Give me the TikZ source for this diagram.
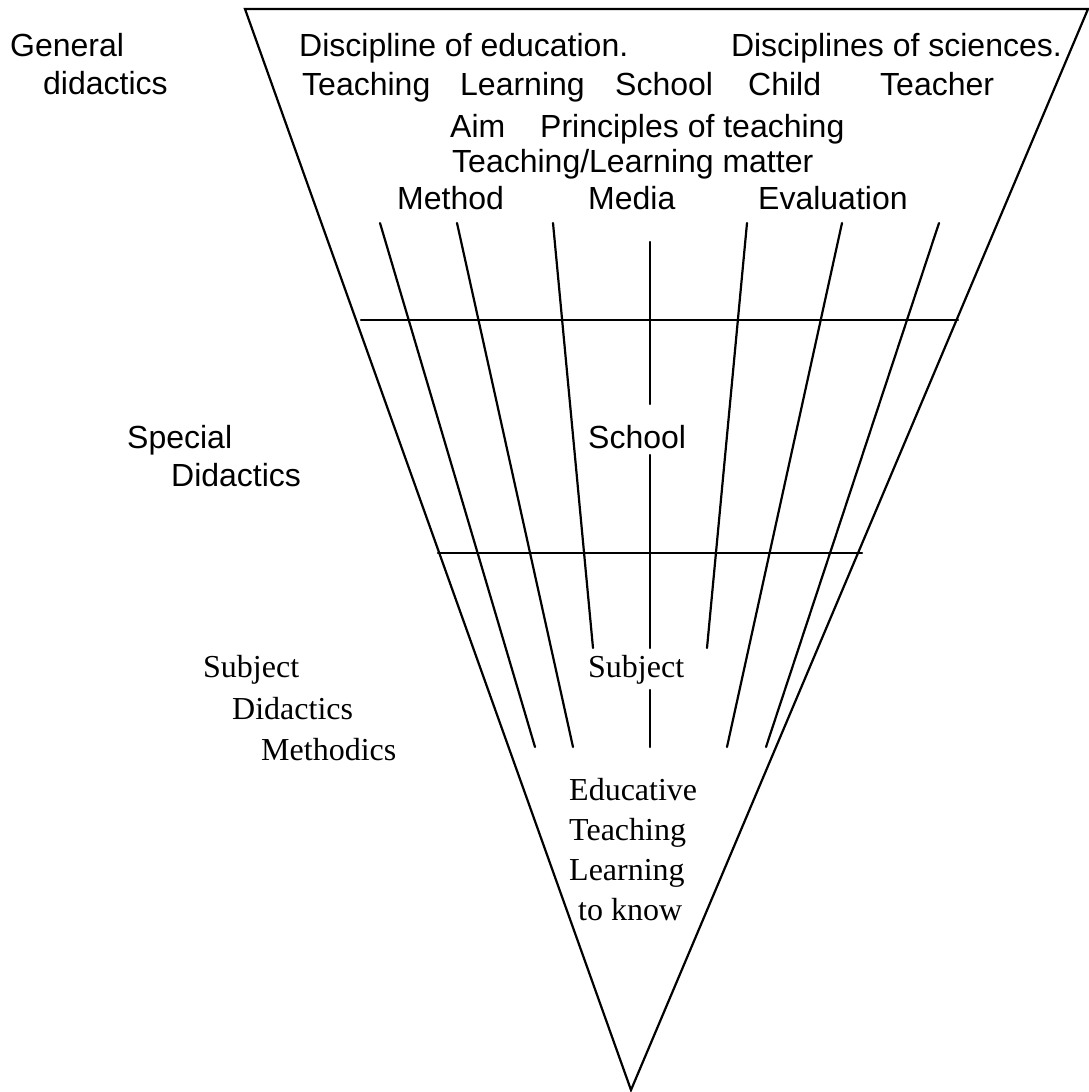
\documentclass[tikz,border=0pt]{standalone}
\usepackage{fontspec}
\setmainfont{Liberation Serif}
\newfontfamily\sansf{Liberation Sans}
\begin{document}
\begin{tikzpicture}[x=1pt,y=-1pt,
  ln/.style={line width=2.2pt, line cap=round},
  st/.style={inner sep=0pt, anchor=base west, font=\sansf\fontsize{32}{38}\selectfont},
  rt/.style={inner sep=0pt, anchor=base west, font=\rmfamily\fontsize{32}{38}\selectfont}]
\useasboundingbox (0,0) rectangle (1089,1092);
% triangle
\coordinate (TL) at (245,9);
\coordinate (TR) at (1088,9);
\coordinate (AP) at (631,1090);
\draw[ln, line join=miter] (TL) -- (TR) -- (AP) -- cycle;
% horizontal bands
\coordinate (h1a) at (361,320); \coordinate (h1b) at (958,320);
\coordinate (h2a) at (438,553); \coordinate (h2b) at (862,553);
\draw[ln] (h1a) -- (h1b);
\draw[ln] (h2a) -- (h2b);
% fan lines
\coordinate (a1) at (380,223); \coordinate (a2) at (535,747);
\coordinate (b1) at (457,223); \coordinate (b2) at (573,747);
\coordinate (c1) at (553,223); \coordinate (c2) at (593,648);
\coordinate (d1) at (747,223); \coordinate (d2) at (707,648);
\coordinate (e1) at (842,223); \coordinate (e2) at (727,747);
\coordinate (f1) at (939,223); \coordinate (f2) at (766,747);
\draw[ln] (a1) -- (a2);
\draw[ln] (b1) -- (b2);
\draw[ln] (c1) -- (c2);
\draw[ln] (d1) -- (d2);
\draw[ln] (e1) -- (e2);
\draw[ln] (f1) -- (f2);
% centre vertical, broken
\coordinate (v1) at (650,242); \coordinate (v2) at (650,404);
\coordinate (v3) at (650,455); \coordinate (v4) at (650,648);
\coordinate (v5) at (650,690); \coordinate (v6) at (650,747);
\draw[ln] (v1) -- (v2);
\draw[ln] (v3) -- (v4);
\draw[ln] (v5) -- (v6);
% left labels
\node[st] (gen1) at (10,56) {General};
\node[st] (gen2) at (43,94) {didactics};
\node[st] (spe1) at (127,448) {Special};
\node[st] (spe2) at (171,486) {Didactics};
\node[rt] (sub1) at (203,677) {Subject};
\node[rt] (sub2) at (232,719) {Didactics};
\node[rt] (sub3) at (261,760) {Methodics};
% top rows
\node[st] (r1a) at (299,56) {Discipline of education.};
\node[st, anchor=base east] (r1b) at (1062,56) {Disciplines of sciences.};
\node[st] (r2a) at (302,95) {Teaching};
\node[st] (r2b) at (460,95) {Learning};
\node[st] (r2c) at (615,95) {School};
\node[st] (r2d) at (748,95) {Child};
\node[st] (r2e) at (880,95) {Teacher};
\node[st] (r3a) at (450,137) {Aim};
\node[st] (r3b) at (540,137) {Principles of teaching};
\node[st] (r4) at (452,172) {Teaching/Learning matter};
\node[st] (r5a) at (397,209) {Method};
\node[st] (r5b) at (588,209) {Media};
\node[st] (r5c) at (758,209) {Evaluation};
% centre labels
\node[st] (sch) at (588,448) {School};
\node[rt] (subj) at (588,677) {Subject};
\node[rt] (ed1) at (569,800) {Educative};
\node[rt] (ed2) at (569,840) {Teaching};
\node[rt] (ed3) at (569,880) {Learning};
\node[rt] (ed4) at (578,920) {to know};
\end{tikzpicture}
\end{document}
